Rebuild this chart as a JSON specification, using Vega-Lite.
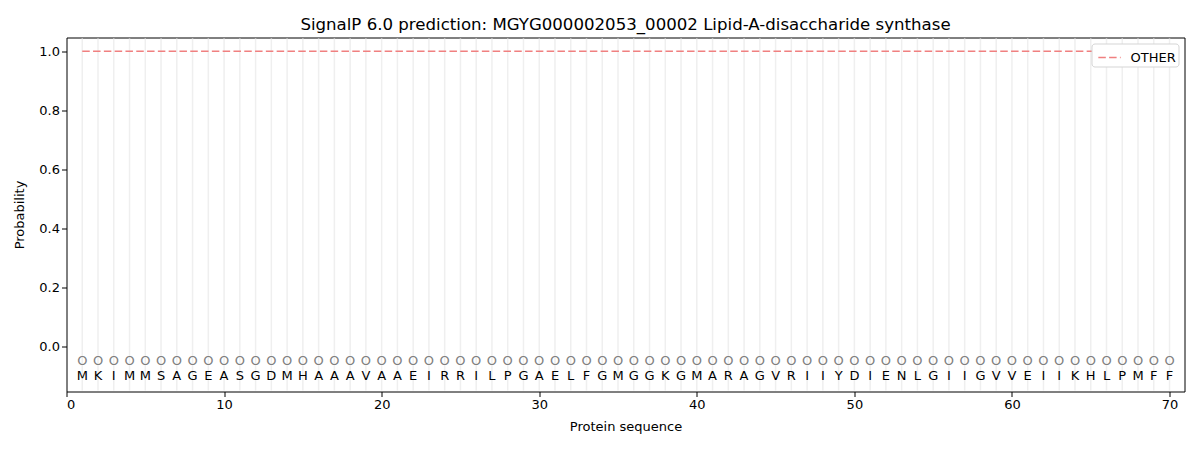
{
  "$schema": "https://vega.github.io/schema/vega-lite/v6.json",
  "autosize": "none",
  "width": 1118,
  "height": 354,
  "padding": {"left": 66.5, "top": 37.5, "right": 15.5, "bottom": 58.5},
  "background": "white",
  "config": {
    "font": "DejaVu Sans",
    "view": {"stroke": "black", "strokeWidth": 1},
    "axis": {
      "domain": false,
      "grid": false,
      "ticks": true,
      "tickColor": "black",
      "tickSize": 5,
      "labelFontSize": 13,
      "labelColor": "black",
      "titleFontSize": 13,
      "titleFontWeight": "normal",
      "titleColor": "black",
      "labelFont": "DejaVu Sans",
      "titleFont": "DejaVu Sans"
    }
  },
  "title": {
    "text": "SignalP 6.0 prediction: MGYG000002053_00002 Lipid-A-disaccharide synthase",
    "fontSize": 16.6,
    "fontWeight": "normal",
    "font": "DejaVu Sans",
    "color": "black",
    "anchor": "middle",
    "offset": 4
  },
  "data": {
    "values": [
      {"pos": 1, "aa": "M", "other": 1.0},
      {"pos": 2, "aa": "K", "other": 1.0},
      {"pos": 3, "aa": "I", "other": 1.0},
      {"pos": 4, "aa": "M", "other": 1.0},
      {"pos": 5, "aa": "M", "other": 1.0},
      {"pos": 6, "aa": "S", "other": 1.0},
      {"pos": 7, "aa": "A", "other": 1.0},
      {"pos": 8, "aa": "G", "other": 1.0},
      {"pos": 9, "aa": "E", "other": 1.0},
      {"pos": 10, "aa": "A", "other": 1.0},
      {"pos": 11, "aa": "S", "other": 1.0},
      {"pos": 12, "aa": "G", "other": 1.0},
      {"pos": 13, "aa": "D", "other": 1.0},
      {"pos": 14, "aa": "M", "other": 1.0},
      {"pos": 15, "aa": "H", "other": 1.0},
      {"pos": 16, "aa": "A", "other": 1.0},
      {"pos": 17, "aa": "A", "other": 1.0},
      {"pos": 18, "aa": "A", "other": 1.0},
      {"pos": 19, "aa": "V", "other": 1.0},
      {"pos": 20, "aa": "A", "other": 1.0},
      {"pos": 21, "aa": "A", "other": 1.0},
      {"pos": 22, "aa": "E", "other": 1.0},
      {"pos": 23, "aa": "I", "other": 1.0},
      {"pos": 24, "aa": "R", "other": 1.0},
      {"pos": 25, "aa": "R", "other": 1.0},
      {"pos": 26, "aa": "I", "other": 1.0},
      {"pos": 27, "aa": "L", "other": 1.0},
      {"pos": 28, "aa": "P", "other": 1.0},
      {"pos": 29, "aa": "G", "other": 1.0},
      {"pos": 30, "aa": "A", "other": 1.0},
      {"pos": 31, "aa": "E", "other": 1.0},
      {"pos": 32, "aa": "L", "other": 1.0},
      {"pos": 33, "aa": "F", "other": 1.0},
      {"pos": 34, "aa": "G", "other": 1.0},
      {"pos": 35, "aa": "M", "other": 1.0},
      {"pos": 36, "aa": "G", "other": 1.0},
      {"pos": 37, "aa": "G", "other": 1.0},
      {"pos": 38, "aa": "K", "other": 1.0},
      {"pos": 39, "aa": "G", "other": 1.0},
      {"pos": 40, "aa": "M", "other": 1.0},
      {"pos": 41, "aa": "A", "other": 1.0},
      {"pos": 42, "aa": "R", "other": 1.0},
      {"pos": 43, "aa": "A", "other": 1.0},
      {"pos": 44, "aa": "G", "other": 1.0},
      {"pos": 45, "aa": "V", "other": 1.0},
      {"pos": 46, "aa": "R", "other": 1.0},
      {"pos": 47, "aa": "I", "other": 1.0},
      {"pos": 48, "aa": "I", "other": 1.0},
      {"pos": 49, "aa": "Y", "other": 1.0},
      {"pos": 50, "aa": "D", "other": 1.0},
      {"pos": 51, "aa": "I", "other": 1.0},
      {"pos": 52, "aa": "E", "other": 1.0},
      {"pos": 53, "aa": "N", "other": 1.0},
      {"pos": 54, "aa": "L", "other": 1.0},
      {"pos": 55, "aa": "G", "other": 1.0},
      {"pos": 56, "aa": "I", "other": 1.0},
      {"pos": 57, "aa": "I", "other": 1.0},
      {"pos": 58, "aa": "G", "other": 1.0},
      {"pos": 59, "aa": "V", "other": 1.0},
      {"pos": 60, "aa": "V", "other": 1.0},
      {"pos": 61, "aa": "E", "other": 1.0},
      {"pos": 62, "aa": "I", "other": 1.0},
      {"pos": 63, "aa": "I", "other": 1.0},
      {"pos": 64, "aa": "K", "other": 1.0},
      {"pos": 65, "aa": "H", "other": 1.0},
      {"pos": 66, "aa": "L", "other": 1.0},
      {"pos": 67, "aa": "P", "other": 1.0},
      {"pos": 68, "aa": "M", "other": 1.0},
      {"pos": 69, "aa": "F", "other": 1.0},
      {"pos": 70, "aa": "F", "other": 1.0}
    ]
  },
  "layer": [
    {
      "mark": {"type": "rule", "color": "#efefef", "strokeWidth": 1.5},
      "encoding": {
        "x": {"field": "pos", "type": "quantitative", "scale": {"domain": [0, 70.95], "nice": false, "zero": false},
          "axis": {"title": "Protein sequence", "values": [0, 10, 20, 30, 40, 50, 60, 70], "titlePadding": 9}},
        "y": {"datum": 1.044, "type": "quantitative", "scale": {"domain": [-0.153, 1.047], "nice": false, "zero": false}},
        "y2": {"datum": -0.15}
      }
    },
    {
      "mark": {"type": "line", "strokeDash": [7.5, 3.3], "strokeWidth": 1.5},
      "encoding": {
        "x": {"field": "pos", "type": "quantitative"},
        "y": {"field": "other", "type": "quantitative",
          "axis": {"title": "Probability", "values": [0, 0.2, 0.4, 0.6, 0.8, 1.0], "format": ".1f", "titlePadding": 12}},
        "color": {
          "datum": "OTHER",
          "type": "nominal",
          "scale": {"range": ["#f08080"]},
          "legend": {
            "title": null,
            "orient": "top-right",
            "offset": 6,
            "symbolType": "stroke",
            "symbolDash": [7.5, 3.3],
            "symbolStrokeWidth": 1.5,
            "symbolSize": 500,
            "symbolOffset": 4,
            "labelOffset": 9,
            "labelFontSize": 13,
            "labelColor": "black",
            "labelFont": "DejaVu Sans",
            "strokeColor": "#d5d5d5",
            "fillColor": "white",
            "cornerRadius": 3,
            "padding": 2
          }
        }
      }
    },
    {
      "mark": {"type": "text", "text": "O", "color": "#808080", "fontSize": 13, "font": "DejaVu Sans"},
      "encoding": {
        "x": {"field": "pos", "type": "quantitative"},
        "y": {"datum": -0.05, "type": "quantitative"}
      }
    },
    {
      "mark": {"type": "text", "color": "black", "fontSize": 13, "font": "DejaVu Sans"},
      "encoding": {
        "x": {"field": "pos", "type": "quantitative"},
        "y": {"datum": -0.102, "type": "quantitative"},
        "text": {"field": "aa"}
      }
    }
  ]
}
